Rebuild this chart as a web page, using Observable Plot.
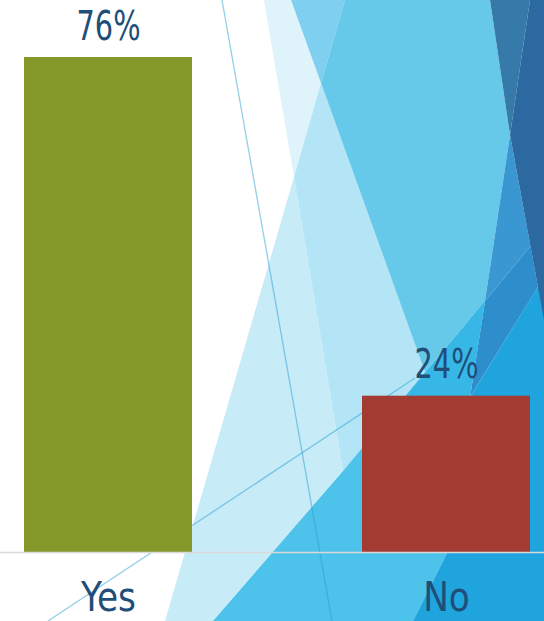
<!DOCTYPE html>
<html>
<head>
<meta charset="utf-8">
<script src="https://cdn.jsdelivr.net/npm/d3@7"></script>
<script src="https://cdn.jsdelivr.net/npm/@observablehq/plot@0.6"></script>
<style>
  html, body { margin: 0; padding: 0; background: #ffffff; }
  #chart { width: 544px; height: 621px; overflow: hidden; }
</style>
</head>
<body>
<div id="chart"></div>
<script>
// ---- chart data ----
const answers = ["Yes", "No"];
const percents = [76, 24];
const barColors = ["#85992b", "#a33b32"];

const rows = answers.map((a, i) => ({answer: a, pct: percents[i]}));

// ---- decorative background (theme facets), pixel space ----
const facets = [
  {fill: "#dff3fb", pts: [[264,0],[291,0],[321,83],[294,177]]},
  {fill: "#7ecff0", pts: [[291,0],[345,0],[321,83]]},
  {fill: "#c8ebf8", pts: [[294,177],[343,471],[213,621],[165,621]]},
  {fill: "#b3e5f6", pts: [[294,177],[321,83],[425,372],[343,471]]},
  {fill: "#66c9ea", pts: [[345,0],[490,0],[510,135],[485,301],[425,372],[321,83]]},
  {fill: "#357aa8", pts: [[490,0],[530,0],[510,135]]},
  {fill: "#3b97d2", pts: [[510,135],[530.5,246],[485,301]]},
  {fill: "#2e8ecc", pts: [[485,301],[530.5,246],[538,287],[470,397]]},
  {fill: "#4dc2ea", pts: [[425,372],[485,301],[470,397],[447,553],[413,621],[213,621],[343,471]]},
  {fill: "#37b7e6", pts: [[485,301],[470,397],[466,430],[378,430]]},
  {fill: "#20a4dd", pts: [[544,277],[544,621],[413,621],[447,553],[470,397]]},
  {fill: "#2b69a0", pts: [[530,0],[544,0],[544,320],[510,135]]}
];
const decoLines = [
  [[48,621],[415,378]],
  [[222,0],[332,621]]
];

function background() {
  const g = d3.create("svg:g");
  for (const f of facets) {
    g.append("polygon")
      .attr("points", f.pts.map(p => p.join(",")).join(" "))
      .attr("fill", f.fill);
  }
  for (const l of decoLines) {
    g.append("line")
      .attr("x1", l[0][0]).attr("y1", l[0][1])
      .attr("x2", l[1][0]).attr("y2", l[1][1])
      .attr("stroke", "rgb(40,160,212)")
      .attr("stroke-opacity", 0.5)
      .attr("stroke-width", 1.3);
  }
  return g.node();
}

const FONT = "'Liberation Sans Narrow', 'DejaVu Sans Condensed', 'Liberation Sans', sans-serif";
const TEXT = "#1f4e79";

const chart = Plot.plot({
  width: 544,
  height: 621,
  marginTop: 57,
  marginBottom: 69,
  marginLeft: 0,
  marginRight: 0,
  style: {fontFamily: FONT, background: "transparent", overflow: "visible"},
  x: {domain: answers, paddingInner: 0.504, paddingOuter: 0.0546, align: 0.62, label: null},
  y: {domain: [0, 76], axis: null},
  color: {domain: answers, range: barColors},
  marks: [
    background,
    Plot.barY(rows, {x: "answer", y: "pct", fill: "answer"}),
    Plot.ruleY([0], {stroke: "#d9d9d9", strokeWidth: 1.5}),
    Plot.text(rows, {
      x: "answer", y: "pct", text: d => d.pct + "%",
      dy: -18, lineAnchor: "bottom", fontSize: 40, fill: TEXT, fontFamily: FONT,
      className: "pctlabel"
    }),
    Plot.axisX({tickSize: 0, tickPadding: 29, fontSize: 41, color: TEXT, label: null, fontFamily: FONT,
      className: "catlabel"})
  ]
});
document.getElementById("chart").appendChild(chart);

// narrow the digits a little, like the original condensed face
function condense(selector, k) {
  chart.querySelectorAll(selector).forEach(t => {
    const w = t.getComputedTextLength();
    if (w > 0) {
      t.setAttribute("textLength", (w * k).toFixed(1));
      t.setAttribute("lengthAdjust", "spacingAndGlyphs");
    }
  });
}
condense(".pctlabel text", 0.8);
condense(".catlabel text", 0.93);
</script>
</body>
</html>
